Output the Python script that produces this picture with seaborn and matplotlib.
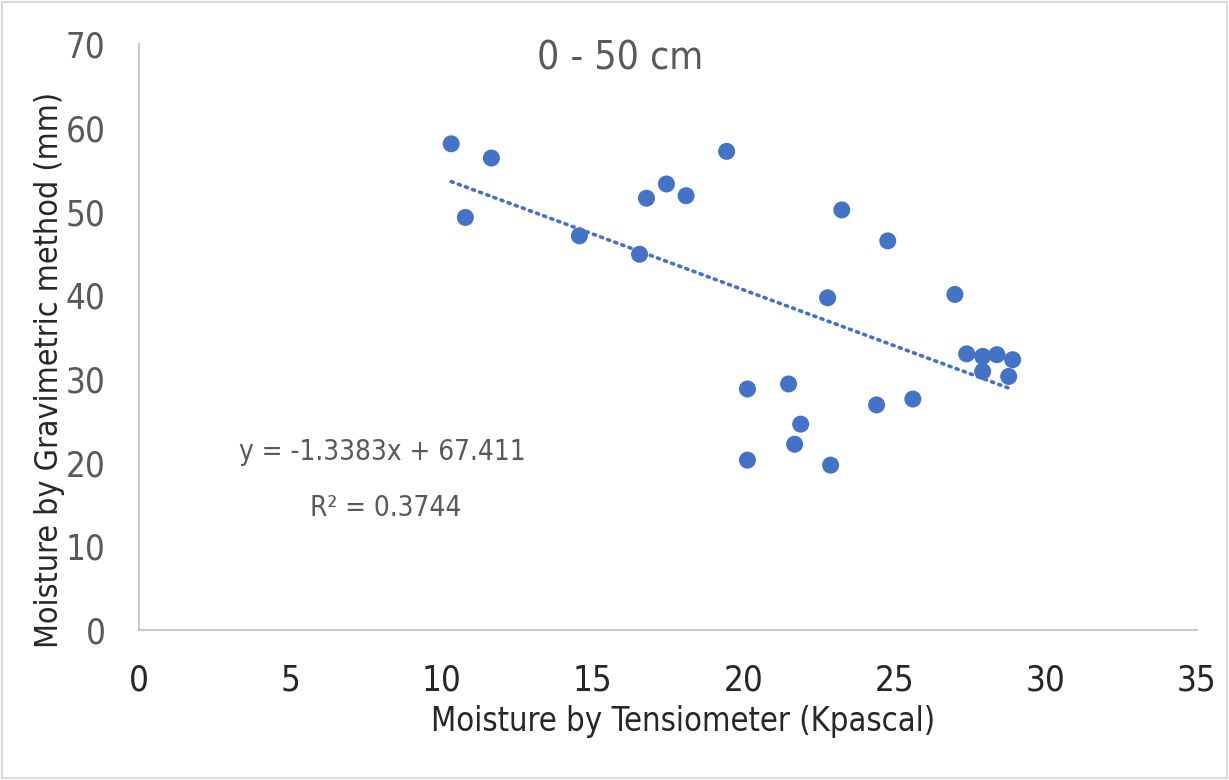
import matplotlib
matplotlib.use("Agg")
import matplotlib.pyplot as plt
import seaborn as sns
import numpy as np
import pandas as pd

tensiometer = [10.33, 10.8, 11.66, 14.57, 16.56, 16.79, 17.45, 18.1, 19.44, 20.13, 20.13,
               21.49, 21.69, 21.89, 22.78, 22.88, 23.25, 24.4, 24.77, 25.6, 26.99,
               27.38, 27.91, 27.91, 28.38, 28.77, 28.9]
gravimetric = [58.1, 49.3, 56.4, 47.1, 44.9, 51.6, 53.3, 51.9, 57.2, 28.8, 20.3,
               29.4, 22.2, 24.6, 39.7, 19.7, 50.2, 26.9, 46.5, 27.6, 40.1,
               33.0, 32.7, 30.9, 32.9, 30.3, 32.3]
trend_slope = -1.3383
trend_intercept = 67.411
r_squared = 0.3744
x_ticks = [0, 5, 10, 15, 20, 25, 30, 35]
y_ticks = [0, 10, 20, 30, 40, 50, 60, 70]
title = "0 - 50 cm"
x_label = "Moisture by Tensiometer (Kpascal)"
y_label = "Moisture by Gravimetric method (mm)"

sns.set_theme(style="white")
plt.rcParams['font.family'] = ['DejaVu Sans']
plt.rcParams['font.stretch'] = 'condensed'

df = pd.DataFrame({"x": tensiometer, "y": gravimetric})
blue = "#4472C4"
grey = "#595959"
dark = "#262626"

fig = plt.figure(figsize=(12.29, 7.8), dpi=100)
ax = fig.add_axes([0.113, 0.1923, 0.861, 0.751])
sns.scatterplot(data=df, x="x", y="y", ax=ax, color=blue, s=150, edgecolor="none", zorder=3)

xs = np.array([min(tensiometer), max(tensiometer)])
ax.plot(xs, trend_slope * xs + trend_intercept, linestyle=(0, (0.6, 1.5)),
        color=blue, linewidth=2.6, dash_capstyle="round", zorder=2)

ax.set_xlim(0, 35)
ax.set_ylim(0, 70)
ax.set_xticks(x_ticks)
ax.set_yticks(y_ticks)
ax.tick_params(axis='x', labelsize=25, colors=dark, length=0, pad=24)
ax.tick_params(axis='y', labelsize=25, colors=grey, length=0, pad=24)
for sp in ["top", "right"]:
    ax.spines[sp].set_visible(False)
for sp in ["left", "bottom"]:
    ax.spines[sp].set_color("#BFBFBF")
    ax.spines[sp].set_linewidth(1.2)

ax.set_xlabel(x_label, fontsize=23.5, color=dark)
ax.set_ylabel(y_label, fontsize=23, color=dark)
ax.xaxis.set_label_coords(0.514, -0.157)
ax.yaxis.set_label_coords(-0.084, 0.444)
ax.xaxis.label.set_va("center")
ax.yaxis.label.set_va("center")

ax.text(0.455, 0.976, title, transform=ax.transAxes, fontsize=28, color=grey,
        ha="center", va="center")
ax.text(0.230, 0.304, f"y = {trend_slope}x + {trend_intercept}", transform=ax.transAxes,
        fontsize=20, color=grey, ha="center", va="center")
ax.text(0.233, 0.208, f"R² = {r_squared}", transform=ax.transAxes,
        fontsize=20, color=grey, ha="center", va="center")

border = plt.Rectangle((0.002, 0.002), 0.996, 0.996, transform=fig.transFigure,
                       fill=False, edgecolor="#D9D9D9", linewidth=1.5)
fig.add_artist(border)

fig.savefig("out.png", dpi=100)
